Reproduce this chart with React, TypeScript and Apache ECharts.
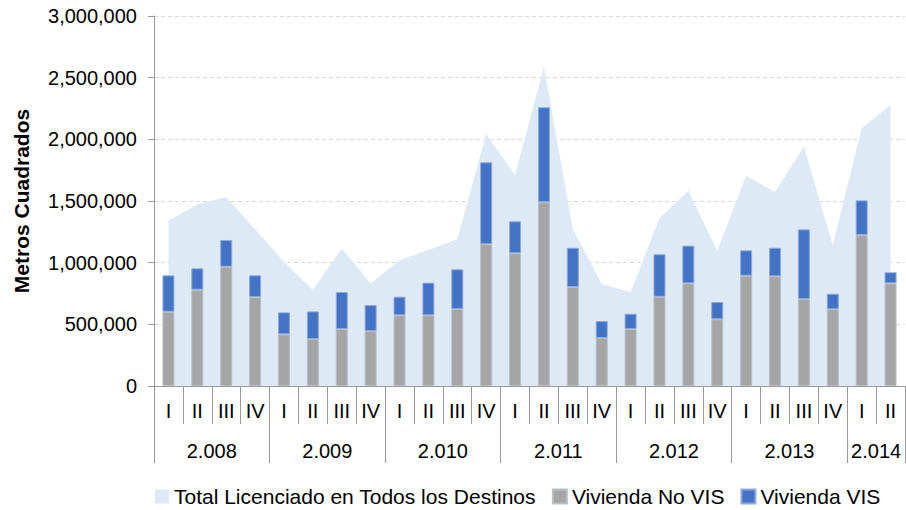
import React, { useEffect, useRef } from "react";
import * as echarts from "echarts";

const quarters = [
  "I", "II", "III", "IV",
  "I", "II", "III", "IV",
  "I", "II", "III", "IV",
  "I", "II", "III", "IV",
  "I", "II", "III", "IV",
  "I", "II", "III", "IV",
  "I", "II",
];
const years = ["2.008", "2.009", "2.010", "2.011", "2.012", "2.013", "2.014"];
const yTicks = [0, 500000, 1000000, 1500000, 2000000, 2500000, 3000000];

const totalLicenciado = [
  1340000, 1473000, 1532000, 1270000, 1008000, 778000, 1116000, 832000,
  1019000, 1103000, 1189000, 2043000, 1711000, 2589000, 1270000, 827000,
  760000, 1360000, 1584000, 1097000, 1705000, 1573000, 1941000, 1143000,
  2089000, 2278000,
];
const viviendaNoVIS = [
  602000, 781000, 967000, 722000, 419000, 381000, 462000, 446000,
  573000, 573000, 624000, 1149000, 1076000, 1489000, 803000, 389000,
  462000, 724000, 832000, 541000, 894000, 889000, 705000, 622000,
  1224000, 832000,
];
const viviendaVIS = [
  295000, 173000, 217000, 175000, 178000, 224000, 300000, 211000,
  151000, 265000, 322000, 665000, 259000, 771000, 318000, 138000,
  124000, 344000, 306000, 140000, 206000, 232000, 565000, 126000,
  281000, 90000,
];

const FONT = "'Liberation Sans', Arial, sans-serif";

export default function App() {
  const ref = useRef<HTMLDivElement>(null);
  useEffect(() => {
    if (!ref.current) return;
    const chart = echarts.init(ref.current, undefined, { renderer: "svg" });
    const gridLeft = 154;
    const gridRight = 1;
    const catW = (906 - gridLeft - gridRight) / quarters.length;
    const yearLabelIdx: Record<number, string> = {};
    years.forEach((y, i) => {
      const start = i * 4;
      const count = Math.min(4, quarters.length - start);
      yearLabelIdx[start + count / 2 - 1] = y;
    });
    chart.setOption({
      animation: false,
      textStyle: { fontFamily: FONT },
      grid: { left: gridLeft, right: gridRight, top: 16, bottom: 124 },
      legend: {
        left: 150,
        top: 481,
        itemWidth: 14,
        itemHeight: 14,
        itemGap: 16,
        icon: "rect",
        textStyle: { fontSize: 21, color: "#000", fontFamily: FONT, lineHeight: 21 },
        data: [
          "Total Licenciado en Todos los Destinos",
          "Vivienda No VIS",
          "Vivienda VIS",
        ],
      },
      xAxis: [
        {
          type: "category",
          data: quarters,
          position: "bottom",
          boundaryGap: true,
          axisLine: { show: true, lineStyle: { color: "#9a9a9a", width: 1 } },
          axisTick: { show: true, interval: 0, length: 38, lineStyle: { color: "#9a9a9a" } },
          axisLabel: { interval: 0, margin: 15, fontSize: 20, color: "#000", fontFamily: FONT },
          splitLine: { show: false },
        },
        {
          type: "category",
          data: quarters.map((_, i) => String(i)),
          position: "bottom",
          boundaryGap: true,
          axisLine: { show: false },
          axisTick: {
            show: true,
            interval: (i: number) => i % 4 === 0,
            length: 77,
            lineStyle: { color: "#9a9a9a" },
          },
          axisLabel: {
            interval: (i: number) => yearLabelIdx[i] !== undefined,
            formatter: (_v: string, i: number) => yearLabelIdx[i] ?? "",
            margin: 55,
            fontSize: 20,
            color: "#000",
            fontFamily: FONT,
            padding: [0, 0, 0, catW],
            hideOverlap: false,
          },
          splitLine: { show: false },
        },
      ],
      yAxis: {
        type: "value",
        min: yTicks[0],
        max: yTicks[yTicks.length - 1],
        interval: yTicks[1] - yTicks[0],
        name: "Metros Cuadrados",
        nameLocation: "middle",
        nameGap: 122,
        nameTextStyle: { fontSize: 21, fontWeight: "bold", color: "#000", fontFamily: FONT },
        axisLine: { show: true, lineStyle: { color: "#9a9a9a" } },
        axisTick: { show: true, length: 6, lineStyle: { color: "#9a9a9a" } },
        axisLabel: {
          fontSize: 20,
          color: "#000",
          margin: 17,
          fontFamily: FONT,
          formatter: (v: number) => v.toLocaleString("en-US"),
        },
        splitLine: { show: true, lineStyle: { color: "#d9d9d9", type: [4, 3] } },
      },
      series: [
        {
          name: "Total Licenciado en Todos los Destinos",
          type: "line",
          data: totalLicenciado,
          symbol: "none",
          lineStyle: { width: 0, color: "#dde9f5" },
          itemStyle: { color: "#dde9f5" },
          areaStyle: { color: "#dde9f5", opacity: 1 },
          z: 1,
        },
        {
          name: "Vivienda No VIS",
          type: "bar",
          stack: "viv",
          data: viviendaNoVIS,
          barWidth: 12,
          itemStyle: { color: "#a5a5a5", borderColor: "#b9bfc8", borderWidth: 1 },
          z: 3,
        },
        {
          name: "Vivienda VIS",
          type: "bar",
          stack: "viv",
          data: viviendaVIS,
          barWidth: 12,
          itemStyle: { color: "#4472c4", borderColor: "#8eaadc", borderWidth: 1 },
          z: 3,
        },
      ],
    });
    return () => chart.dispose();
  }, []);
  return (
    <div
      ref={ref}
      style={{ position: "fixed", left: 0, top: 0, width: 906, height: 510, background: "#fff" }}
    />
  );
}
